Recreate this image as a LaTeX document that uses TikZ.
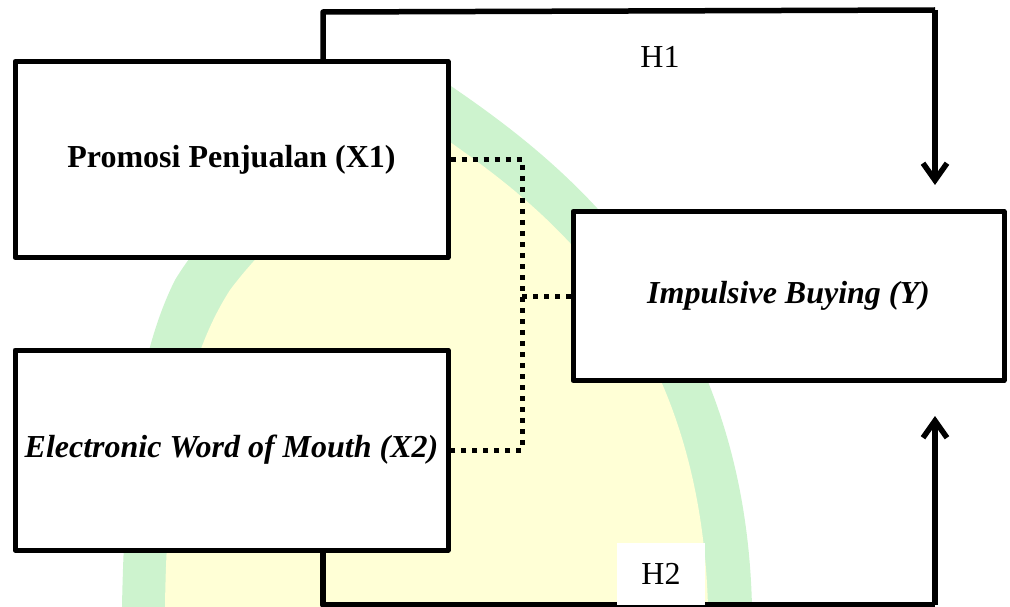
\documentclass[tikz,border=0pt]{standalone}
\usepackage{fontspec}
\setmainfont{Liberation Serif}
\usepackage{tikz}
\usetikzlibrary{arrows.meta,positioning}

\definecolor{wmgreen}{RGB}{205,243,206}
\definecolor{wmyellow}{RGB}{255,255,214}

\begin{document}
\begin{tikzpicture}[x=1pt, y=-1pt, line width=5pt, line join=round, node distance=290.5pt,
  >={Straight Barb[length=17pt,width=24pt]},
  varbox/.style={draw, fill=white, inner sep=0pt, minimum width=433pt, minimum height=196pt},
  dotline/.style={line width=5pt, dash pattern=on 5pt off 6pt},
  hline/.style={line width=5.5pt},
  every node/.style={font=\fontsize{32}{38}\selectfont}]
\useasboundingbox (0,0) rectangle (1010,607);

% watermark
\fill[wmgreen] (122,607) .. controls (125,450) and (140,350) .. (175,280)
  .. controls (230,190) and (330,130) .. (445,82)
  .. controls (560,160) and (745,300) .. (752,607) -- cycle;
\fill[wmyellow] (165,607) .. controls (167,460) and (185,360) .. (230,290)
  .. controls (290,210) and (370,165) .. (440,135)
  .. controls (540,205) and (700,320) .. (708,607) -- cycle;

\node[varbox] (x1) at (231.5,159.5) {\textbf{Promosi Penjualan (X1)}};
\node[varbox, minimum height=200pt] (x2) [below of=x1] {\textbf{\textit{Electronic Word of Mouth (X2)}}};
\node[varbox, minimum width=431pt, minimum height=169pt] (y) at (788.5,296) {\textbf{\textit{Impulsive Buying (Y)}}};

\coordinate (h1a) at (323,12);
\coordinate (h1b) at (935,10);
\coordinate (h1end) at (935,185);
\coordinate (h2a) at (323,605);
\coordinate (h2b) at (935,605);
\coordinate (h2end) at (935,416);
\coordinate (mid) at (522,296);

% direct paths
\draw[hline] (x1.north -| h1a) -- (h1a) -- (h1b);
\draw[hline, ->] (h1b) -- (h1end);
\draw[hline] (x2.south -| h2a) -- (h2a) -- (h2b);
\draw[hline, ->] (h2b) -- (h2end);

% joint path
\draw[dotline] (x1.east) -- (x1.east -| mid) -- (x2.east -| mid) -- (x2.east);
\draw[dotline] (mid) -- (y.west);

\node (h1) at (660,57) {H1};
\node[fill=white, minimum width=88pt, minimum height=62pt] (h2) at (661,574) {H2};
\end{tikzpicture}
\end{document}
